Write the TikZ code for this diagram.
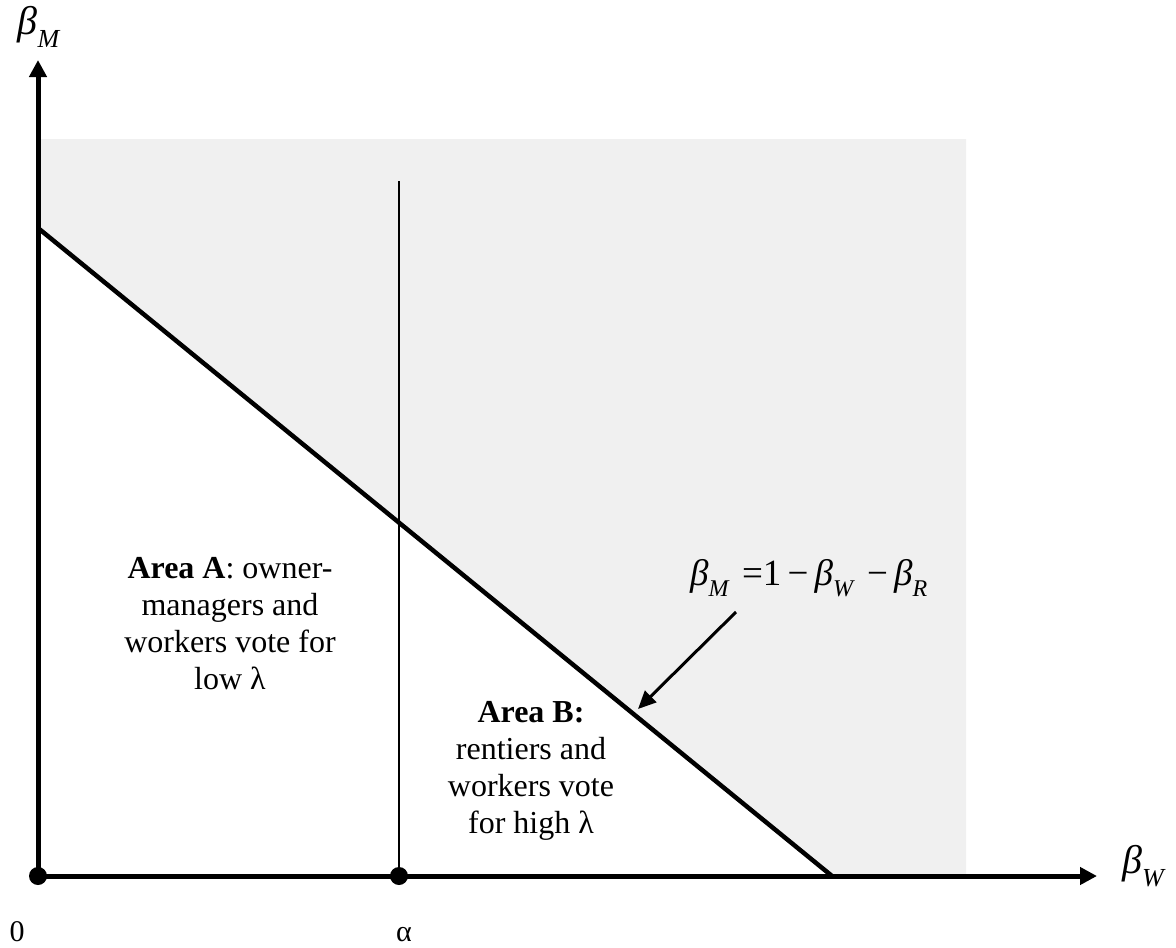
\documentclass[tikz,border=0pt]{standalone}
\usepackage{fontspec}
\setmainfont{Liberation Serif}
\usetikzlibrary{arrows.meta}
\newcommand\bvar[2]{\textit{β}\raisebox{-0.32em}{\fontsize{#1}{#1}\selectfont\textit{#2}}}
\tikzset{
  axis/.style={line width=5pt, -{Triangle[length=17pt,width=17pt]}},
  bound/.style={line width=4.5pt},
  thinline/.style={line width=2pt},
  pointer/.style={line width=3pt, -{Triangle[length=18pt,width=16pt]}},
  txt/.style={font=\fontsize{32}{37}\selectfont, align=center, inner sep=0pt},
  lbl/.style={font=\fontsize{40}{40}\selectfont, inner sep=0pt},
  num/.style={font=\fontsize{30}{30}\selectfont, inner sep=0pt},
  eqf/.style={font=\fontsize{37}{37}\selectfont, inner sep=0pt},
  dotmark/.style={circle, fill=black, inner sep=0pt, minimum size=18pt},
  shade/.style={fill=black!6}
}
\begin{document}
\begin{tikzpicture}[x=1pt, y=-1pt]
\useasboundingbox (0,0) rectangle (1176,948);
% shaded region
\fill[shade] (40,139) -- (966,139) -- (966,876) -- (832,876) -- (40,229) -- cycle;
% coordinates
\coordinate (O) at (38,876);
\coordinate (Ytop) at (38,60);
\coordinate (Xend) at (1097,876);
\coordinate (A) at (399,876);
\coordinate (Atop) at (399,181);
\coordinate (L1) at (38,228);
\coordinate (L2) at (832,876);
\coordinate (Pstart) at (736,612);
\coordinate (Ptip) at (638,709);
% lines
\draw[thinline] (A) -- (Atop);
\draw[bound] (L1) -- (L2);
\draw[axis] (O) -- (Xend);
\draw[axis] (O) -- (Ytop);
\node[dotmark] (dO) at (O) {};
\node[dotmark] (dA) at (A) {};
\draw[pointer] (Pstart) -- (Ptip);
% labels
\node[lbl] (bm) at (39,27) {\bvar{26}{M}};
\node[lbl] (bw) at (1144,866) {\bvar{26}{W}};
\node[num, anchor=base] (zero) at (17,941) {0};
\node[num, anchor=base] (alpha) at (404,941) {α};
\node[eqf, anchor=base west] (eq) at (690,585) {\bvar{24}{M}\,\,=1\,−\,\bvar{24}{W}\,\,−\,\bvar{24}{R}};
\node[txt, anchor=base] (areaA) at (230,689) {\textbf{Area A}: owner-\\managers and\\workers vote for\\low λ};
\node[txt, anchor=base] (areaB) at (531,833) {\textbf{Area B:}\\rentiers and\\workers vote\\for high λ};
\end{tikzpicture}
\end{document}
